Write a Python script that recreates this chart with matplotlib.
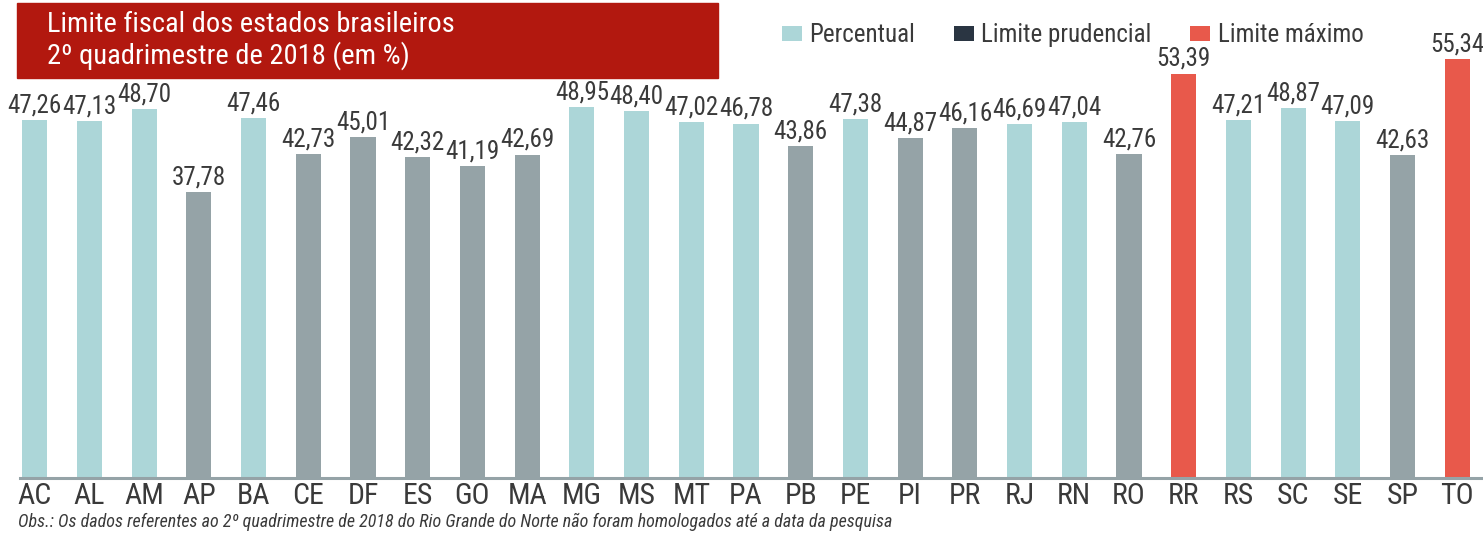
import matplotlib
matplotlib.use("Agg")
import matplotlib.pyplot as plt
from matplotlib.patches import Patch, Rectangle
from matplotlib import font_manager as fm

_avail = {f.name for f in fm.fontManager.ttflist}
_font = next((f for f in ["Roboto Condensed", "Archivo Narrow", "PT Sans Narrow",
                          "Liberation Sans Narrow", "Liberation Sans"] if f in _avail), "DejaVu Sans")
plt.rcParams['font.family'] = [_font, 'DejaVu Sans']

states = ["AC", "AL", "AM", "AP", "BA", "CE", "DF", "ES", "GO", "MA", "MG", "MS", "MT", "PA",
          "PB", "PE", "PI", "PR", "RJ", "RN", "RO", "RR", "RS", "SC", "SE", "SP", "TO"]
values = [47.26, 47.13, 48.70, 37.78, 47.46, 42.73, 45.01, 42.32, 41.19, 42.69, 48.95, 48.40,
          47.02, 46.78, 43.86, 47.38, 44.87, 46.16, 46.69, 47.04, 42.76, 53.39, 47.21, 48.87,
          47.09, 42.63, 55.34]
# p = Percentual, g = (grey bars), m = Limite máximo
groups = ["p", "p", "p", "g", "p", "g", "g", "g", "g", "g", "p", "p", "p", "p",
          "g", "p", "g", "g", "p", "p", "g", "m", "p", "p", "p", "g", "m"]
legend_labels = ["Percentual", "Limite prudencial", "Limite máximo"]

title_lines = ["Limite fiscal dos estados brasileiros", "2º quadrimestre de 2018 (em %)"]
footnote = ("Obs.: Os dados referentes ao 2º quadrimestre de 2018 do Rio Grande do Norte "
            "não foram homologados até a data da pesquisa")

bar_colors = {"p": "#acd6d8", "g": "#95a3a7", "m": "#e8594b"}
legend_colors = ["#acd6d8", "#2a3542", "#e8594b"]
text_color = "#3a3a3a"

W, H = 1483, 534
fig = plt.figure(figsize=(W / 100, H / 100), dpi=100)
ax = fig.add_axes([20 / W, (H - 478) / H, (W - 20) / W, 478 / H])

x = list(range(len(states)))
ax.bar(x, values, width=0.46, color=[bar_colors[g] for g in groups], zorder=2)
for xi, v in zip(x, values):
    ax.text(xi, v + 0.35, f"{v:.2f}".replace(".", ","), ha="center", va="bottom",
            fontsize=18, color=text_color)

ax.set_xlim(-0.27, 26.47)
ax.set_ylim(0, 63.1)
ax.set_xticks(x)
ax.set_xticklabels(states, fontsize=21.5, color=text_color)
ax.tick_params(axis="x", length=0, pad=3)
ax.set_yticks([])
for s in ["top", "right", "left"]:
    ax.spines[s].set_visible(False)
ax.spines["bottom"].set_color("#95a3a7")
ax.spines["bottom"].set_linewidth(2.2)

# title box
fig.patches.append(Rectangle((17 / W, 1 - 78 / H), (718 - 17) / W, 75 / H,
                             transform=fig.transFigure, color="#b2180f", zorder=0))
fig.text(47 / W, 1 - 24 / H, title_lines[0], color="white", fontsize=20.5, va="center", ha="left")
fig.text(47 / W, 1 - 56 / H, title_lines[1], color="white", fontsize=20.5, va="center", ha="left")

handles = [Patch(facecolor=c, edgecolor="none") for c in legend_colors]
fig.legend(handles, legend_labels, loc="center left", bbox_to_anchor=(759 / W, 1 - 35 / H),
           ncol=3, frameon=False, fontsize=18, handlelength=0.8, handleheight=0.55,
           handletextpad=0.3, columnspacing=1.55, labelcolor=text_color)

fig.text(18 / W, 1 - 522 / H, footnote, fontsize=13, style="italic", color=text_color,
         va="center", ha="left")

fig.savefig("out.png", dpi=100)
